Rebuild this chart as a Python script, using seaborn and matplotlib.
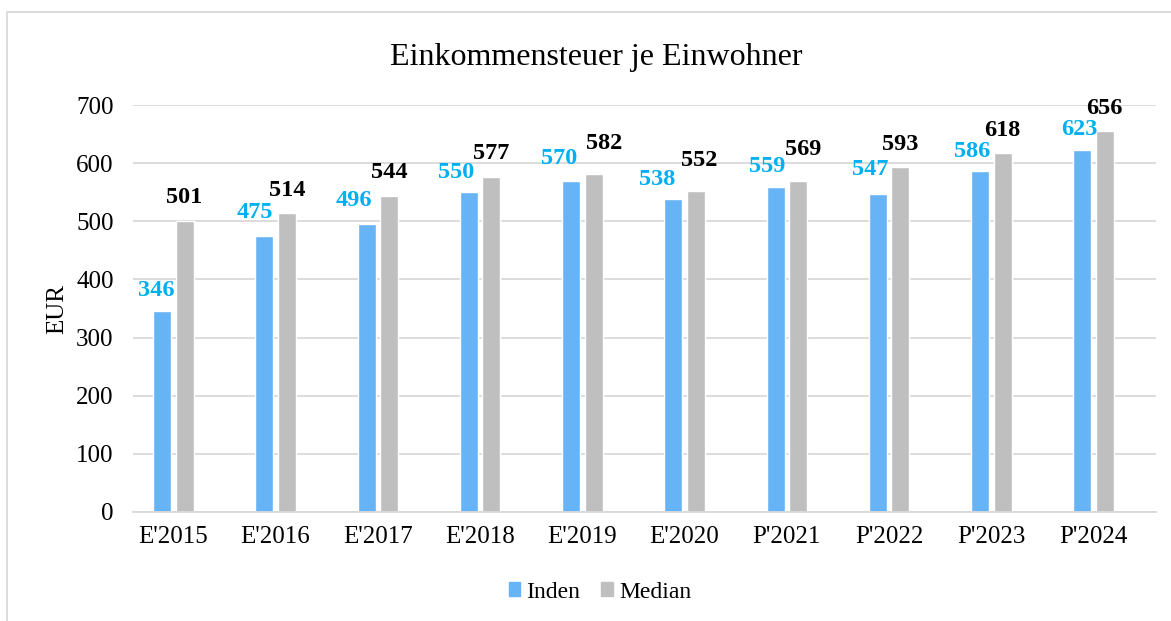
import pandas as pd
import matplotlib.pyplot as plt
import seaborn as sns
from matplotlib.patches import Rectangle

# data
years = ["E'2015", "E'2016", "E'2017", "E'2018", "E'2019",
         "E'2020", "P'2021", "P'2022", "P'2023", "P'2024"]
inden = [346, 475, 496, 550, 570, 538, 559, 547, 586, 623]
median = [501, 514, 544, 577, 582, 552, 569, 593, 618, 656]
series = ["Inden", "Median"]

# manual nudges of the data labels (pixels), as placed in the original chart
inden_dx = [-6, -9, -13, -13, -12, -16, -8, -8, -8, -3]
inden_dy = [15, 18, 18, 14, 17, 14, 15, 19, 14, 15]
median_dx = [0, 0, 0, 0, 11, 3, 5, 0, 0, 0]
median_dy = [18, 17, 18, 18, 25, 25, 26, 17, 17, 17]

df = pd.DataFrame({
    "year": years * 2,
    "value": inden + median,
    "series": [series[0]] * len(years) + [series[1]] * len(years),
})

sns.set_style("white")
plt.rcParams["font.family"] = ["Liberation Serif", "DejaVu Serif"]
plt.rcParams["text.color"] = "black"
plt.rcParams["axes.labelcolor"] = "black"

W, H = 1171, 621
fig = plt.figure(figsize=(W / 100, H / 100), dpi=100)
ax = fig.add_axes([133 / W, (H - 512) / H, (1156 - 133) / W, (512 - 105) / H])

palette = {"Inden": "#66B3F5", "Median": "#BFBFBF"}
sns.barplot(data=df, x="year", y="value", hue="series", palette=palette,
            width=0.44, gap=0.2, ax=ax, legend=False, saturation=1)

ax.set_xlim(-0.394, 9.611)
ax.set_ylim(0, 700)
ax.set_yticks(range(0, 701, 100))
ax.yaxis.grid(True, color="#D9D9D9", linewidth=1.3)
ax.set_axisbelow(True)
for s in ["top", "right", "left"]:
    ax.spines[s].set_visible(False)
ax.spines["bottom"].set_color("#D9D9D9")
ax.spines["bottom"].set_linewidth(1.3)
ax.tick_params(axis="both", length=0, labelsize=18, colors="black")
ax.tick_params(axis="x", pad=10)
ax.tick_params(axis="y", pad=14)
ax.set_xlabel("")
ax.set_ylabel("EUR", fontsize=18, labelpad=6)

# data labels
label_colors = {"Inden": "#00B0F0", "Median": "black"}
offsets = {"Inden": (inden_dx, inden_dy), "Median": (median_dx, median_dy)}
for cont, name in zip(ax.containers, series):
    dxs, dys = offsets[name]
    for bar, dx, dy in zip(cont, dxs, dys):
        h = bar.get_height()
        ax.annotate(f"{h:.0f}", (bar.get_x() + bar.get_width() / 2, h),
                    xytext=(dx * 0.72, dy * 0.72), textcoords="offset points",
                    ha="center", va="baseline", fontsize=17.5, fontweight="bold",
                    color=label_colors[name], annotation_clip=False)

fig.text(596 / W, 1 - 57 / H, "Einkommensteuer je Einwohner",
         ha="center", va="center", fontsize=23, color="black")

# legend
handles = [Rectangle((0, 0), 1, 1, color=palette[s]) for s in series]
fig.legend(handles, series, loc="center", bbox_to_anchor=(600 / W, 1 - 592 / H),
           ncol=2, frameon=False, fontsize=17, handlelength=0.5,
           handleheight=0.5, handletextpad=0.25, columnspacing=0.9)

# outer chart border
fig.patches.append(Rectangle((7 / W, -0.05), 1.1, 1 - 12 / H + 0.05,
                             transform=fig.transFigure, fill=False,
                             edgecolor="#D9D9D9", linewidth=1.3))

fig.savefig("out.png", dpi=100)
